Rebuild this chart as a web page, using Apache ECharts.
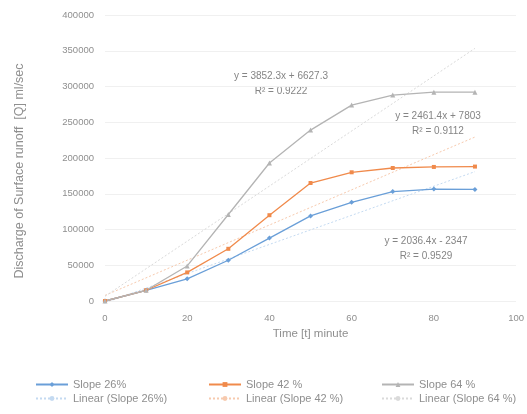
<!DOCTYPE html>
<html><head><meta charset="utf-8">
<script src="https://cdn.jsdelivr.net/npm/echarts@6/dist/echarts.min.js"></script>
<style>html,body{margin:0;padding:0;background:#fff}#c{width:527px;height:414px}</style>
</head><body><div id="c"></div>
<script>
const timeMin = [0, 10, 20, 30, 40, 50, 60, 70, 80, 90];
const slope26 = [0, 15000, 31000, 57000, 88000, 119000, 138000, 153000, 156500, 156000];
const slope42 = [0, 15000, 40000, 73000, 120000, 165000, 180000, 186000, 187500, 188000];
const slope64 = [0, 15000, 49000, 121000, 193000, 239000, 274000, 288000, 292000, 292000];
const trendX = [0, 90];
const trend26 = [-2347, 180929];
const trend42 = [7803, 229329];
const trend64 = [6627, 353334];
const yTicks = [0, 50000, 100000, 150000, 200000, 250000, 300000, 350000, 400000];
const names = ['Slope 26%', 'Slope 42 %', 'Slope 64 %', 'Linear (Slope 26%)', 'Linear (Slope 42 %)', 'Linear (Slope 64 %)'];
const yTitle = 'Discharge of Surface runoff  [Q] ml/sec';
const eqTexts = [
  ['y = 3852.3x + 6627.3', 'R² = 0.9222'],
  ['y = 2461.4x + 7803', 'R² = 0.9112'],
  ['y = 2036.4x - 2347', 'R² = 0.9529']
];

const colors = ['#6a9fd8', '#f08a4b', '#b4b4b4'];
const trendColors = ['#c4daf1', '#f7caae', '#dadada'];
const txt = '#8f8f8f';
const font = 'Liberation Sans';

function pts(xs, ys) { return xs.map((x, i) => [x, ys[i]]); }

const chart = echarts.init(document.getElementById('c'), null, {renderer: 'canvas'});
const mk = (name, data, color, symbol) => ({
  name, type: 'line', data: pts(timeMin, data),
  symbol, symbolSize: symbol === 'rect' ? 4 : 5,
  lineStyle: {color, width: 1.3}, itemStyle: {color},
  z: 3
});
const tr = (name, data, color) => ({
  name, type: 'line', data: pts(trendX, data), symbol: 'none',
  lineStyle: {color, width: 1, type: [2, 2]}, itemStyle: {color}, z: 2
});
const legendBase = (left, items) => ({
  orient: 'vertical', left, top: 374, itemGap: 3, itemWidth: 32, itemHeight: 6,
  textStyle: {color: txt, fontSize: 11, fontFamily: font},
  data: items.map(n => ({name: n}))
});
const eqText = (x, y, lines) => ({
  type: 'text', x, y,
  style: {text: lines.join('\n'), fill: '#858585', font: '10px Liberation Sans', textAlign: 'center', textVerticalAlign: 'middle', lineHeight: 15}
});
chart.setOption({
  animation: false,
  backgroundColor: '#fff',
  grid: {left: 105, right: 7, top: 15, bottom: 113},
  xAxis: {
    type: 'value', min: 0, max: 100, interval: 20,
    name: 'Time [t] minute', nameLocation: 'middle', nameGap: 23,
    nameTextStyle: {color: txt, fontSize: 11.5, fontFamily: font},
    axisLine: {show: false}, axisTick: {show: false},
    splitLine: {show: false},
    axisLabel: {color: txt, fontSize: 9.5, fontFamily: font, margin: 12}
  },
  yAxis: {
    type: 'value', min: 0, max: 400000, interval: 50000,
    axisLine: {show: false}, axisTick: {show: false},
    splitLine: {show: true, lineStyle: {color: '#f0f0f0', width: 1}},
    axisLabel: {color: txt, fontSize: 9.5, fontFamily: font, margin: 11,
      formatter: v => yTicks.includes(v) ? String(v) : ''}
  },
  legend: [
    legendBase(30, [names[0], names[3]]),
    legendBase(203, [names[1], names[4]]),
    legendBase(376, [names[2], names[5]])
  ],
  graphic: [
    {type: 'text', x: 20, y: 171, rotation: Math.PI / 2,
     style: {text: yTitle, fill: txt, font: '12.5px Liberation Sans', textAlign: 'center', textVerticalAlign: 'middle'}},
    eqText(281, 84, eqTexts[0]),
    eqText(438, 124, eqTexts[1]),
    eqText(426, 249, eqTexts[2])
  ],
  series: [
    mk(names[0], slope26, colors[0], 'diamond'),
    mk(names[1], slope42, colors[1], 'rect'),
    mk(names[2], slope64, colors[2], 'triangle'),
    tr(names[3], trend26, trendColors[0]),
    tr(names[4], trend42, trendColors[1]),
    tr(names[5], trend64, trendColors[2])
  ]
});
</script></body></html>
